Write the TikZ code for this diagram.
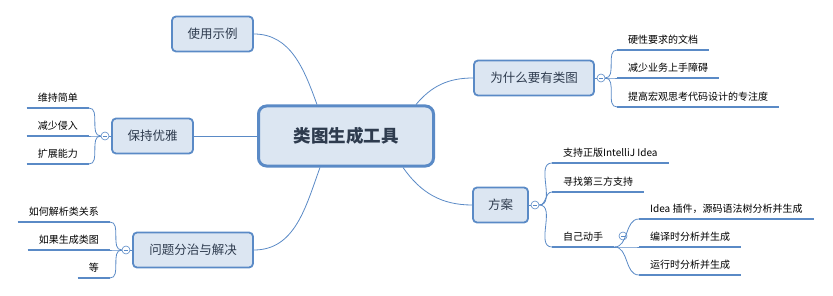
\documentclass[tikz,border=0pt]{standalone}
\usepackage{fontspec}
\setmainfont{Noto Sans CJK SC}
\usetikzlibrary{shapes, arrows, positioning, calc}
\definecolor{mapblue}{HTML}{5A8AC6}
\definecolor{mapfill}{HTML}{DCE6F2}
\definecolor{maptext}{HTML}{2E3B4E}

\begin{document}
\begin{tikzpicture}[x=1pt, y=1pt]
            \tikzstyle{root} = [draw=mapblue, fill=mapfill, line width=3pt, rounded corners=8pt, minimum width=175pt, minimum height=60pt, text=maptext, font=\fontsize{17.5}{20}\selectfont\bfseries]
            \tikzstyle{topic} = [draw=mapblue, fill=mapfill, line width=1.8pt, rounded corners=4pt, minimum height=35pt, text=maptext, font=\fontsize{12.5}{15}\selectfont]
            \tikzstyle{leaf} = [inner xsep=11pt, inner ysep=4pt, text height=8pt, text depth=2pt, font=\fontsize{10}{12}\selectfont]
            \tikzstyle{fold} = [draw=mapblue, fill=white, circle, line width=0.6pt, minimum size=8pt, inner sep=0pt, path picture={\draw[mapblue, line width=0.5pt] ([xshift=-2pt]path picture bounding box.center) -- ([xshift=2pt]path picture bounding box.center);}]
            \tikzstyle{link} = [draw=mapblue, line width=0.8pt]
            \tikzstyle{under} = [draw=mapblue, line width=2.6pt]

            \useasboundingbox (0,0) rectangle (833,295);

            % centre and main topics
            \node[root] (root) at (346, 159) {类图生成工具};
            \node[topic, minimum width=81pt] (usage) at (212.5, 261) {使用示例};
            \node[topic, minimum width=81pt] (keep) at (152.5, 159) {保持优雅};
            \node[topic, minimum width=120pt] (split) at (193, 45) {问题分治与解决};
            \node[topic, minimum width=120pt] (why) at (534, 217) {为什么要有类图};
            \node[topic, minimum width=55pt] (plan) at (500.5, 90) {方案};

            \draw[link] (root.north) ++(-29pt,0) coordinate (r1) (r1) to[out=110, in=0] (usage.east);
            \draw[link] (keep.east) -- (keep.east -| root.west);
            \draw[link] (root.south) ++(-26pt,0) coordinate (r2) (r2) to[out=-110, in=0] (split.east);
            \draw[link] (root.north) ++(70pt,0) coordinate (r3) (r3) to[out=50, in=180] (why.west);
            \draw[link] (root.south) ++(57pt,0) coordinate (r4) (r4) to[out=-55, in=180] (plan.west);

            % fold markers
            \node[fold] (fkeep) at (105, 159) {};
            \node[fold] (fsplit) at (126, 45) {};
            \node[fold] (fwhy) at (601, 217) {};
            \node[fold] (fplan) at (535, 90) {};
            \node[fold] (fself) at (623, 59) {};

            % leaves on the left
            \node[leaf, anchor=south east] (k1) at (89, 187) {维持简单};
            \node[leaf, anchor=south east] (k2) at (89, 159) {减少侵入};
            \node[leaf, anchor=south east] (k3) at (89, 131) {扩展能力};
            \node[leaf, anchor=south east] (s1) at (110, 73) {如何解析类关系};
            \node[leaf, anchor=south east] (s2) at (110, 45) {如果生成类图};
            \node[leaf, anchor=south east] (s3) at (110, 17) {等};

            % leaves on the right
            \node[leaf, anchor=south west] (w1) at (617, 245) {硬性要求的文档};
            \node[leaf, anchor=south west] (w2) at (617, 217) {减少业务上手障碍};
            \node[leaf, anchor=south west] (w3) at (617, 188) {提高宏观思考代码设计的专注度};
            \node[leaf, anchor=south west] (p1) at (552, 132) {支持正版IntelliJ Idea};
            \node[leaf, anchor=south west] (p2) at (552, 103) {寻找第三方支持};
            \node[leaf, anchor=south west] (p3) at (552, 48) {自己动手};
            \node[leaf, anchor=south west] (d1) at (639, 76) {Idea 插件，源码语法树分析并生成};
            \node[leaf, anchor=south west] (d2) at (639, 48) {编译时分析并生成};
            \node[leaf, anchor=south west] (d3) at (639, 20) {运行时分析并生成};

            \foreach \n in {k1, k2, k3, s1, s2, s3, w1, w2, w3, p1, p2, p3, d1, d2, d3}
                \draw[under] (\n.south west) -- (\n.south east);

            \draw[link] (keep.west) -- (fkeep.east);
            \draw[link] (split.west) -- (fsplit.east);
            \draw[link] (why.east) -- (fwhy.west);
            \draw[link] (plan.east) -- (fplan.west);

            \foreach \n in {k1, k2, k3}
                \draw[link] (fkeep.west) to[out=180, in=0] (\n.south east);
            \foreach \n in {s1, s2, s3}
                \draw[link] (fsplit.west) to[out=180, in=0] (\n.south east);
            \foreach \n in {w1, w2, w3}
                \draw[link] (fwhy.east) to[out=0, in=180] (\n.south west);
            \foreach \n in {p1, p2, p3}
                \draw[link] (fplan.east) to[out=0, in=180] (\n.south west);
            \foreach \n in {d1, d2, d3}
                \draw[link] (p3.south east) to[out=0, in=180] (\n.south west);
        \end{tikzpicture}
\end{document}
